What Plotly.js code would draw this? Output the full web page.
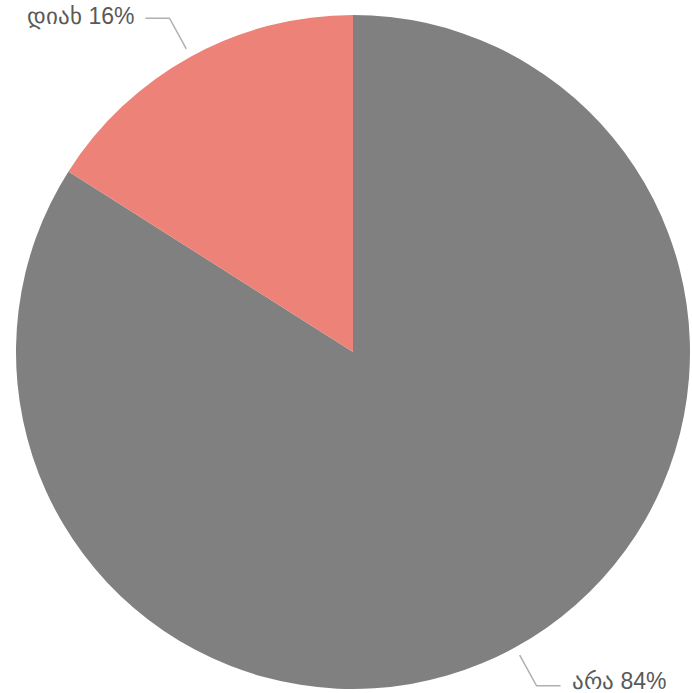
<!DOCTYPE html>
<html>
<head>
<meta charset="utf-8">
<script src="https://cdn.plot.ly/plotly-3.0.1.min.js"></script>
<style>html,body{margin:0;padding:0;background:#fff;}#chart{width:692px;height:693px;}</style>
</head>
<body>
<div id="chart"></div>
<script>
const labels = ['არა', 'დიახ'];
const values = [84, 16];
const colors = ['#808080', '#ec8278'];

const W = 692, H = 693;
const M = {l: 16, r: 2, t: 15, b: 4};
const pw = W - M.l - M.r, ph = H - M.t - M.b;
const cx = M.l + pw / 2, cy = M.t + ph / 2;
const R = Math.min(pw, ph) / 2;

function px2paper(x, y) { return [(x - M.l) / pw, 1 - (y - M.t) / ph]; }

const total = values.reduce((a, b) => a + b, 0);
const shapes = [], annotations = [];
let cum = 0;
values.forEach((v, i) => {
  const mid = (cum + v / 2) / total;
  cum += v;
  const th = 2 * Math.PI * mid;
  const dx = Math.sin(th), dy = -Math.cos(th);
  const s = dx >= 0 ? 1 : -1;
  const p1 = [cx + dx * (R + 9), cy + dy * (R + 9)];
  const p2 = [cx + dx * (R + 44), cy + dy * (R + 44)];
  const p3 = [p2[0] + s * 24, p2[1]];
  const a = px2paper(...p1), b = px2paper(...p2), c = px2paper(...p3);
  shapes.push({type: 'path', xref: 'paper', yref: 'paper',
    path: `M ${a[0]} ${a[1]} L ${b[0]} ${b[1]} L ${c[0]} ${c[1]}`,
    line: {color: '#b0b0b0', width: 1.5}});
  const t = px2paper(p3[0] + s * 9, p3[1] - (dy > 0 ? 5 : 2));
  annotations.push({xref: 'paper', yref: 'paper', x: t[0], y: t[1],
    xanchor: s > 0 ? 'left' : 'right', yanchor: 'middle', showarrow: false,
    text: labels[i] + ' ' + Math.round(v / total * 100) + '%',
    font: {family: 'Liberation Sans, Arial, sans-serif', size: 23, color: '#595959'}});
});

Plotly.newPlot('chart', [{
  type: 'pie', labels: labels, values: values, sort: false,
  direction: 'clockwise', rotation: 0,
  marker: {colors: colors, line: {width: 0}},
  textinfo: 'none', hoverinfo: 'none'
}], {
  width: W, height: H, margin: M, showlegend: false,
  paper_bgcolor: '#fff', plot_bgcolor: '#fff',
  shapes: shapes, annotations: annotations
}, {displayModeBar: false, staticPlot: true});
</script>
</body>
</html>
